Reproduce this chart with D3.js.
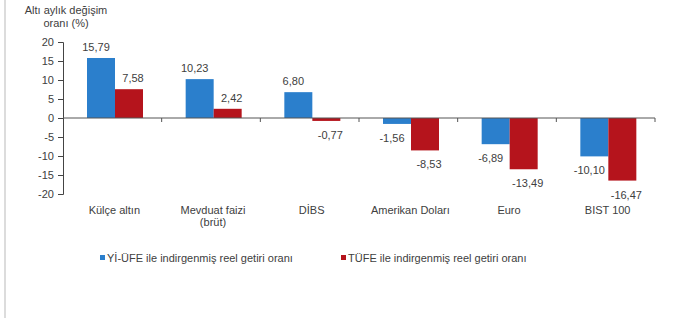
<!DOCTYPE html>
<html>
<head>
<meta charset="utf-8">
<script src="https://cdn.jsdelivr.net/npm/d3@7"></script>
<style>
  body { margin: 0; background: #fff; }
  svg text { font-family: "Liberation Sans", Arial, sans-serif; fill: #404040; }
</style>
</head>
<body>
<div id="chart"></div>
<script>
const categories = [["Külçe altın"], ["Mevduat faizi", "(brüt)"], ["DİBS"], ["Amerikan Doları"], ["Euro"], ["BIST 100"]];
const ufeValues = [15.79, 10.23, 6.80, -1.56, -6.89, -10.10];
const tufeValues = [7.58, 2.42, -0.77, -8.53, -13.49, -16.47];
const seriesNames = ["Yİ-ÜFE ile indirgenmiş reel getiri oranı", "TÜFE ile indirgenmiş reel getiri oranı"];
const yTicks = [20, 15, 10, 5, 0, -5, -10, -15, -20];

const colors = ["#2b7fcc", "#b5141c"];
const W = 694, H = 318;

const svg = d3.select("#chart").append("svg")
    .attr("width", W).attr("height", H);

// faint frame line on the left
svg.append("line")
    .attr("x1", 5).attr("x2", 5).attr("y1", 0).attr("y2", H)
    .attr("stroke", "#dcdcdc").attr("stroke-width", 2);

const y = d3.scaleLinear().domain([-20, 20]).range([194, 42]);
const x = d3.scaleBand().domain(d3.range(categories.length)).range([63, 655]);
const inner = d3.scaleBand().domain([0, 1]).range([0, 56]);
const padL = 24;

// y axis
const yAxis = svg.append("g").attr("transform", "translate(63,0)")
    .call(d3.axisLeft(y).tickValues(yTicks).tickSize(5).tickPadding(4)
        .tickFormat(d => d < 0 ? "-" + Math.abs(d) : d));
yAxis.select(".domain").attr("stroke", "#444").attr("d", "M-5,42.5H0.5V194.5H-5");
yAxis.selectAll(".tick line").attr("stroke", "#444");
yAxis.selectAll("text").style("font-size", "11px").attr("fill", "#404040");

// y title
svg.append("text").attr("x", 66).attr("y", 14).attr("text-anchor", "middle")
    .style("font-size", "11px").text("Altı aylık değişim");
svg.append("text").attr("x", 66).attr("y", 27).attr("text-anchor", "middle")
    .style("font-size", "11px").text("oranı (%)");

const series = [ufeValues, tufeValues];
const fmt = d => d3.format(".2f")(d).replace(".", ",").replace("\u2212", "-");

series.forEach(function(vals, s) {
    svg.selectAll(".bar" + s).data(vals).enter().append("rect")
        .attr("x", (d, i) => x(i) + padL + inner(s))
        .attr("width", inner.bandwidth())
        .attr("y", d => y(Math.max(0, d)))
        .attr("height", d => Math.abs(y(d) - y(0)))
        .attr("fill", colors[s]);

    svg.selectAll(".lab" + s).data(vals).enter().append("text")
        .attr("x", (d, i) => x(i) + padL + inner(s) + inner.bandwidth() / 2 + (s === 0 ? -5 : 4))
        .attr("y", d => d >= 0 ? y(d) - 7 : y(d) + 18)
        .attr("text-anchor", "middle")
        .style("font-size", "11px")
        .text(fmt);
});

// x axis line with ticks
const xAxis = svg.append("g").attr("transform", "translate(0," + y(0) + ")");
xAxis.append("line").attr("x1", 63).attr("x2", 655).attr("stroke", "#555");
categories.forEach(function(c, i) {
    xAxis.append("line")
        .attr("x1", x(i) + x.bandwidth()).attr("x2", x(i) + x.bandwidth())
        .attr("y1", 0).attr("y2", 4).attr("stroke", "#555");
});

// category labels
categories.forEach(function(lines, i) {
    lines.forEach(function(t, k) {
        svg.append("text")
            .attr("x", x(i) + x.bandwidth() / 2 + 2)
            .attr("y", 214 + k * 12)
            .attr("text-anchor", "middle")
            .style("font-size", "11px")
            .text(t);
    });
});

// legend
const legX = [100, 341];
seriesNames.forEach(function(n, s) {
    svg.append("rect").attr("x", legX[s]).attr("y", 255).attr("width", 5).attr("height", 5)
        .attr("fill", colors[s]);
    svg.append("text").attr("x", legX[s] + 7).attr("y", 262)
        .style("font-size", "11px").text(n);
});
</script>
</body>
</html>
